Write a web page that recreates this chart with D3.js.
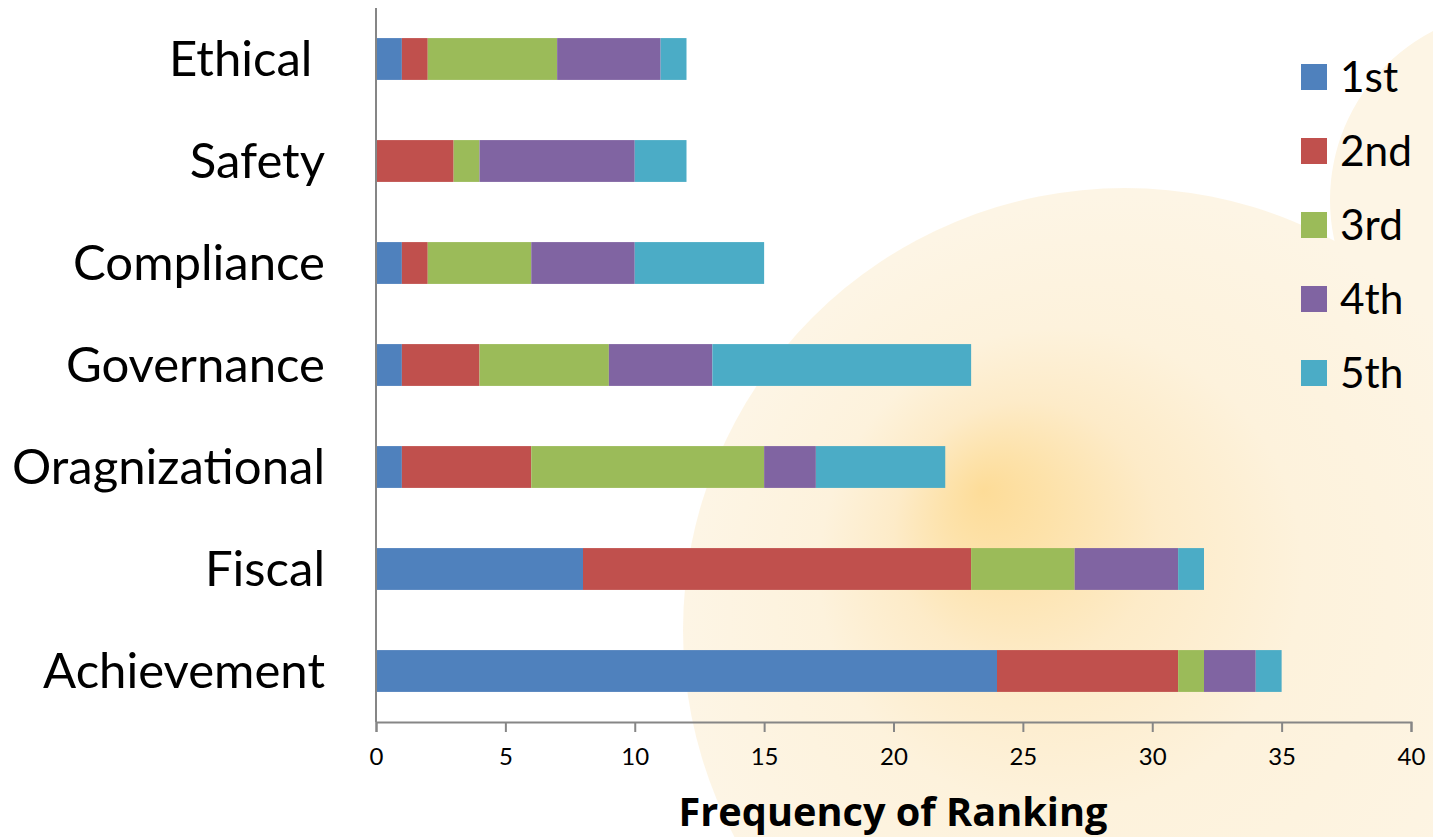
<!DOCTYPE html>
<html><head><meta charset="utf-8">
<script src="https://cdn.jsdelivr.net/npm/d3@7/dist/d3.min.js"></script>
<style>body{margin:0;background:#fff;overflow:hidden}svg{display:block}</style>
</head><body>
<svg id="c" width="1433" height="837"></svg>
<script>
const categories = ["Ethical ", "Safety", "Compliance", "Governance", "Oragnizational", "Fiscal", "Achievement"];
const seriesNames = ["1st", "2nd", "3rd", "4th", "5th"];
const first  = [1, 0, 1, 1, 1, 8, 24];
const second = [1, 3, 1, 3, 5, 15, 7];
const third  = [5, 1, 4, 5, 9, 4, 1];
const fourth = [4, 6, 4, 4, 2, 4, 2];
const fifth  = [1, 2, 5, 10, 5, 1, 1];
const colors = ["#4f81bd", "#c0504d", "#9bbb59", "#8064a2", "#4bacc6"];
const xTicks = [0, 5, 10, 15, 20, 25, 30, 35, 40];
const xTitle = "Frequency of Ranking";

(function(){
const svg = d3.select("#c");
const defs = svg.append("defs");
const g1 = defs.append("radialGradient").attr("id","glow")
  .attr("gradientUnits","userSpaceOnUse").attr("cx",1125).attr("cy",635).attr("r",440)
  .attr("fx",983).attr("fy",490);
g1.append("stop").attr("offset",0).attr("stop-color","#fddc98");
g1.append("stop").attr("offset",0.12).attr("stop-color","#fde2aa");
g1.append("stop").attr("offset",0.3).attr("stop-color","#fdebc8");
g1.append("stop").attr("offset",0.55).attr("stop-color","#fdf2dc");
g1.append("stop").attr("offset",1).attr("stop-color","#fdf5e5");

svg.append("circle").attr("cx",1520).attr("cy",200).attr("r",190).attr("fill","#fdf5e5");
svg.append("circle").attr("cx",1125).attr("cy",630).attr("r",442).attr("fill","url(#glow)");

const pL = 376, pR = 1411, pT = 8, pB = 722;
const x = d3.scaleLinear().domain([0, 40]).range([pL, pR]);
const y = d3.scaleBand().domain(categories).range([pT, pB]).paddingInner(0.59).paddingOuter(0.295);

const table = categories.map((c, i) => ({cat: c, "1st": first[i], "2nd": second[i], "3rd": third[i], "4th": fourth[i], "5th": fifth[i]}));
const stacked = d3.stack().keys(seriesNames)(table);

svg.append("g").selectAll("g").data(stacked).join("g")
  .attr("fill", (d, i) => colors[i])
  .selectAll("rect").data(d => d).join("rect")
  .attr("x", d => x(d[0])).attr("width", d => x(d[1]) - x(d[0]))
  .attr("y", d => y(d.data.cat)).attr("height", y.bandwidth());

const xAxis = svg.append("g").attr("transform", `translate(0,${pB})`)
  .call(d3.axisBottom(x).tickValues(xTicks).tickSize(10).tickPadding(16));
xAxis.attr("font-size", 24).attr("font-family","Lato, 'Open Sans', sans-serif");
xAxis.select(".domain").attr("stroke","#868686").attr("stroke-width",2);
xAxis.selectAll(".tick line").attr("stroke","#868686").attr("stroke-width",2);
xAxis.selectAll(".tick text").attr("fill","#000").style("font-size","24px");

svg.append("line").attr("x1",pL).attr("x2",pL).attr("y1",pT).attr("y2",pB)
  .attr("stroke","#868686").attr("stroke-width",2);

const catG = svg.append("g").attr("font-family","Lato, 'Open Sans', sans-serif").attr("fill","#000");
const labels = catG.selectAll("text").data(categories).join("text")
  .attr("x", 325).attr("y", d => y(d) + y.bandwidth()/2)
  .attr("dy","0.35em").attr("text-anchor","end").style("white-space","pre")
  .attr("font-size", 44).text(d => d);
const wMax = d3.max(labels.nodes(), n => n.getComputedTextLength());
labels.attr("font-size", 44 * 313 / wMax);

const t = svg.append("text").attr("x", 893).attr("y", 826).attr("text-anchor","middle")
  .attr("font-family","'Open Sans', sans-serif").attr("font-weight","bold").attr("font-size",40).text(xTitle);
const tw = t.node().getComputedTextLength();
t.attr("font-size", 40 * 429 / tw);

const lg = svg.append("g").selectAll("g").data(seriesNames).join("g")
  .attr("transform", (d, i) => `translate(1301,${64 + i * 74})`);
lg.append("rect").attr("width",26).attr("height",26).attr("fill",(d,i)=>colors[i]);
const lt = lg.append("text").attr("x",39).attr("y",13).attr("dy","0.36em")
  .attr("font-family","Lato, 'Open Sans', sans-serif").attr("font-size",40).text(d => d);
const w2 = lt.filter(d => d === "2nd").node().getComputedTextLength();
lt.attr("font-size", 40 * 72 / w2);
})();
</script>
</body></html>
